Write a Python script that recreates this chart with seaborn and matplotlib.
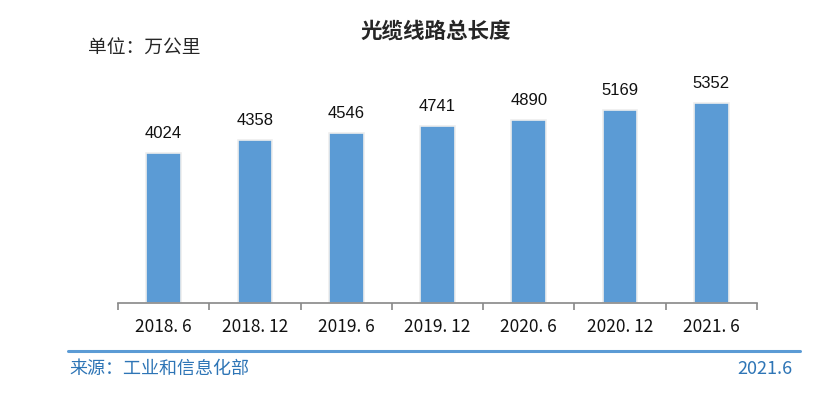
import matplotlib
matplotlib.use("Agg")
import matplotlib.pyplot as plt
import seaborn as sns
import pandas as pd

periods = ["2018. 6", "2018. 12", "2019. 6", "2019. 12", "2020. 6", "2020. 12", "2021. 6"]
lengths = [4024, 4358, 4546, 4741, 4890, 5169, 5352]

sns.set_theme(style="white")
plt.rcParams['font.family'] = ['Noto Sans CJK SC', 'DejaVu Sans']

df = pd.DataFrame({"period": periods, "length": lengths})

fig = plt.figure(figsize=(8.19, 3.94), dpi=100)
ax = fig.add_axes([0.1441, 0.231, 0.7802, 0.569])
sns.barplot(data=df, x="period", y="length", color="#5B9BD5", width=0.38,
            saturation=1, edgecolor="#eeeeee", linewidth=1.2, ax=ax)

for i, v in enumerate(lengths):
    ax.text(i, v + 320, str(v), ha="center", va="bottom", fontsize=12,
            family="Liberation Sans", color="#111111")

ax.set_ylim(0, 6000)
ax.set_xlim(-0.5, len(periods) - 0.5)
ax.set_xlabel("")
ax.set_ylabel("")
ax.set_yticks([])
for s in ["top", "right", "left"]:
    ax.spines[s].set_visible(False)
ax.spines["bottom"].set_color("#888888")
ax.spines["bottom"].set_linewidth(1.2)

# ticks on category boundaries, labels at centres
ax.set_xticks([i - 0.5 for i in range(len(periods) + 1)], minor=True)
ax.set_xticks(range(len(periods)))
ax.set_xticklabels(periods, fontsize=12.5, color="#111111")
ax.tick_params(axis="x", which="major", length=0, pad=11)
ax.tick_params(axis="x", which="minor", length=5, width=1.2, color="#888888", direction="out", bottom=True)

fig.text(0.532, 0.922, "光缆线路总长度", ha="center", va="center", fontsize=15.5, fontweight="bold")
fig.text(0.107, 0.877, "单位：万公里", ha="left", va="center", fontsize=13.5)

fig.add_artist(plt.Line2D([0.083, 0.977], [0.109, 0.109], color="#5B9BD5", linewidth=2.2))
fig.text(0.085, 0.063, "来源：工业和信息化部", ha="left", va="center", fontsize=13, color="#2E75B6")
fig.text(0.967, 0.063, "2021.6", ha="right", va="center", fontsize=13, color="#2E75B6")

fig.savefig("out.png", dpi=100)
plt.close(fig)
